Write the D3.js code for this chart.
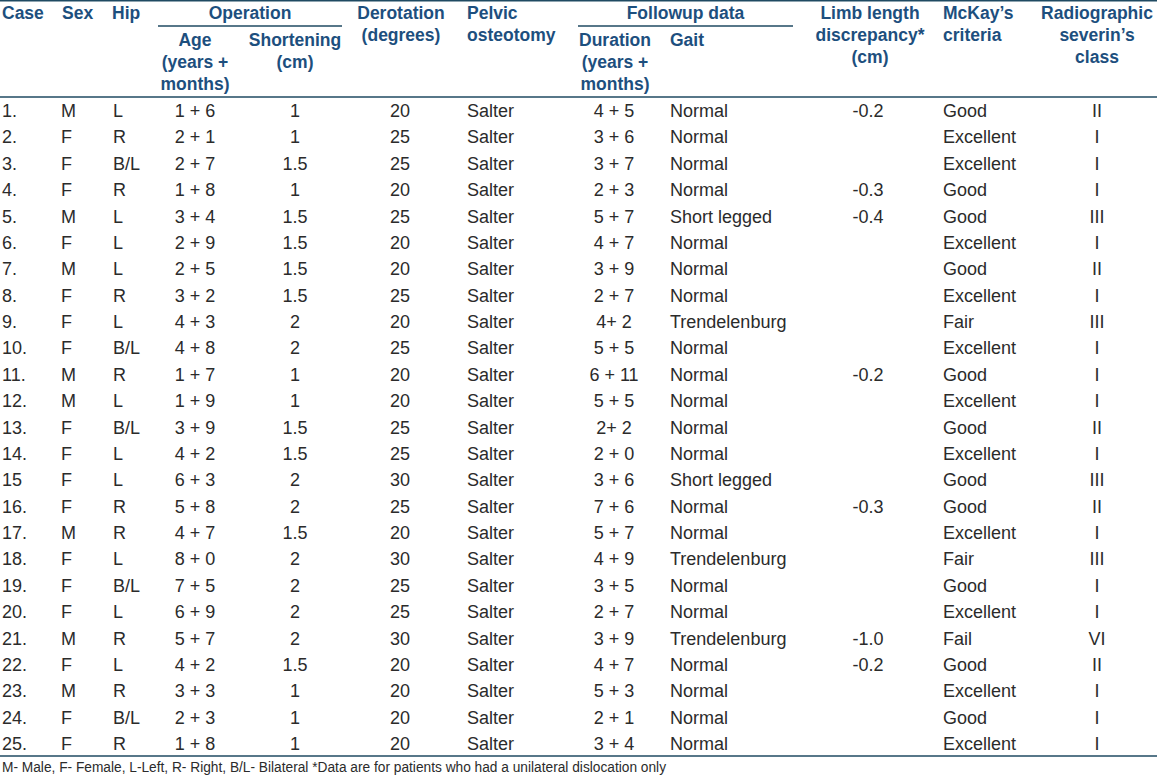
<!DOCTYPE html>
<html>
<head>
<meta charset="utf-8">
<script src="https://cdn.jsdelivr.net/npm/d3@7"></script>
<style>
  body { margin: 0; background: #fff; }
  svg { display: block; font-family: "Liberation Sans", Arial, sans-serif; }
</style>
</head>
<body>
<svg id="the-table"></svg>
<script>
// Table values, one array per column
const cases = ["1.", "2.", "3.", "4.", "5.", "6.", "7.", "8.", "9.", "10.", "11.", "12.", "13.",
    "14.", "15", "16.", "17.", "18.", "19.", "20.", "21.", "22.", "23.", "24.", "25."];
const sex = ["M", "F", "F", "F", "M", "F", "M", "F", "F", "F", "M", "M", "F",
    "F", "F", "F", "M", "F", "F", "F", "M", "F", "M", "F", "F"];
const hip = ["L", "R", "B/L", "R", "L", "L", "L", "R", "L", "B/L", "R", "L", "B/L",
    "L", "L", "R", "R", "L", "B/L", "L", "R", "L", "R", "B/L", "R"];
const age = ["1 + 6", "2 + 1", "2 + 7", "1 + 8", "3 + 4", "2 + 9", "2 + 5", "3 + 2", "4 + 3", "4 + 8",
    "1 + 7", "1 + 9", "3 + 9", "4 + 2", "6 + 3", "5 + 8", "4 + 7", "8 + 0", "7 + 5", "6 + 9",
    "5 + 7", "4 + 2", "3 + 3", "2 + 3", "1 + 8"];
const shortening = ["1", "1", "1.5", "1", "1.5", "1.5", "1.5", "1.5", "2", "2", "1", "1", "1.5",
    "1.5", "2", "2", "1.5", "2", "2", "2", "2", "1.5", "1", "1", "1"];
const derotation = ["20", "25", "25", "20", "25", "20", "20", "25", "20", "25", "20", "20", "25",
    "25", "30", "25", "20", "30", "25", "25", "30", "20", "20", "20", "20"];
const pelvic = cases.map(() => "Salter");
const duration = ["4 + 5", "3 + 6", "3 + 7", "2 + 3", "5 + 7", "4 + 7", "3 + 9", "2 + 7", "4+ 2", "5 + 5",
    "6 + 11", "5 + 5", "2+ 2", "2 + 0", "3 + 6", "7 + 6", "5 + 7", "4 + 9", "3 + 5", "2 + 7",
    "3 + 9", "4 + 7", "5 + 3", "2 + 1", "3 + 4"];
const gait = ["Normal", "Normal", "Normal", "Normal", "Short legged", "Normal", "Normal", "Normal",
    "Trendelenburg", "Normal", "Normal", "Normal", "Normal", "Normal", "Short legged", "Normal",
    "Normal", "Trendelenburg", "Normal", "Normal", "Trendelenburg", "Normal", "Normal", "Normal", "Normal"];
const limb = ["-0.2", "", "", "-0.3", "-0.4", "", "", "", "", "", "-0.2", "", "",
    "", "", "-0.3", "", "", "", "", "-1.0", "-0.2", "", "", ""];
const mckay = ["Good", "Excellent", "Excellent", "Good", "Good", "Excellent", "Good", "Excellent",
    "Fair", "Excellent", "Good", "Excellent", "Good", "Excellent", "Good", "Good", "Excellent",
    "Fair", "Good", "Excellent", "Fail", "Good", "Excellent", "Good", "Excellent"];
const severin = ["II", "I", "I", "I", "III", "I", "II", "I", "III", "I", "I", "I", "II",
    "I", "III", "II", "I", "III", "I", "I", "VI", "II", "I", "I", "I"];

const footnote = "M- Male, F- Female, L-Left, R- Right, B/L- Bilateral *Data are for patients who had a unilateral dislocation only";

const width = 1157;
const height = 777;
const headColor = "#1d4f7e";
const textColor = "#2b2b2b";
const ruleColor = "#1f4a62";

// column layout: x position and anchor
const columns = [
    {key: "case", values: cases, x: 2, anchor: "start", head: ["Case"], hx: 2},
    {key: "sex", values: sex, x: 61, anchor: "start", head: ["Sex"], hx: 62},
    {key: "hip", values: hip, x: 113, anchor: "start", head: ["Hip"], hx: 112},
    {key: "age", values: age, x: 195, anchor: "middle", sub: ["Age", "(years +", "months)"], hx: 195},
    {key: "short", values: shortening, x: 295, anchor: "middle", sub: ["Shortening", "(cm)"], hx: 295},
    {key: "derot", values: derotation, x: 400, anchor: "middle", head: ["Derotation", "(degrees)"], hx: 401},
    {key: "pelvic", values: pelvic, x: 467, anchor: "start", head: ["Pelvic", "osteotomy"], hx: 467},
    {key: "dur", values: duration, x: 614, anchor: "middle", sub: ["Duration", "(years +", "months)"], hx: 615},
    {key: "gait", values: gait, x: 670, anchor: "start", sub: ["Gait"], hx: 670, subAnchor: "start"},
    {key: "limb", values: limb, x: 868, anchor: "middle", head: ["Limb length", "discrepancy*", "(cm)"], hx: 870},
    {key: "mckay", values: mckay, x: 943, anchor: "start", head: ["McKay\u2019s", "criteria"], hx: 943},
    {key: "sev", values: severin, x: 1097, anchor: "middle", head: ["Radiographic", "severin\u2019s", "class"], hx: 1097}
];

const groups = [
    {label: "Operation", x1: 158, x2: 342},
    {label: "Followup data", x1: 578, x2: 793}
];

const svg = d3.select("#the-table")
    .attr("width", width)
    .attr("height", height)
    .attr("viewBox", [0, 0, width, height]);

// row positions (baselines)
const y = d3.scalePoint()
    .domain(d3.range(cases.length))
    .range([117, 750]);

// rules
const rules = svg.append("g").attr("stroke", ruleColor).attr("stroke-width", 1.4);
rules.append("line").attr("x1", 0).attr("x2", width).attr("y1", 0.7).attr("y2", 0.7);
rules.append("line").attr("x1", 0).attr("x2", width).attr("y1", 97).attr("y2", 97);
rules.append("line").attr("x1", 0).attr("x2", width).attr("y1", 756).attr("y2", 756);
rules.selectAll("line.group")
    .data(groups)
    .join("line")
        .attr("class", "group")
        .attr("x1", d => d.x1)
        .attr("x2", d => d.x2)
        .attr("y1", 26)
        .attr("y2", 26);

// header text
const head = svg.append("g")
    .attr("fill", headColor)
    .attr("font-weight", "bold")
    .attr("font-size", 17.5);

head.selectAll("text.group")
    .data(groups)
    .join("text")
        .attr("class", "group")
        .attr("x", d => (d.x1 + d.x2) / 2)
        .attr("y", 19)
        .attr("text-anchor", "middle")
        .text(d => d.label);

columns.forEach(c => {
    const lines = c.head || c.sub;
    const y0 = c.head ? 19 : 46;
    const anchor = c.head ? c.anchor : (c.subAnchor || "middle");
    head.selectAll(null)
        .data(lines)
        .join("text")
            .attr("x", c.hx)
            .attr("y", (d, i) => y0 + i * 22)
            .attr("text-anchor", anchor)
            .text(d => d);
});

// body cells
const body = svg.append("g")
    .attr("fill", textColor)
    .attr("font-size", 18);

columns.forEach(c => {
    body.append("g")
        .attr("class", c.key)
        .selectAll("text")
        .data(c.values)
        .join("text")
            .attr("x", c.x)
            .attr("y", (d, i) => y(i))
            .attr("text-anchor", c.anchor)
            .text(d => d);
});

// footnote
const note = svg.append("text")
    .attr("x", 2)
    .attr("y", 772)
    .attr("fill", textColor)
    .attr("font-size", 14)
    .text(footnote);
note.attr("textLength", 664).attr("lengthAdjust", "spacingAndGlyphs");
</script>
</body>
</html>
